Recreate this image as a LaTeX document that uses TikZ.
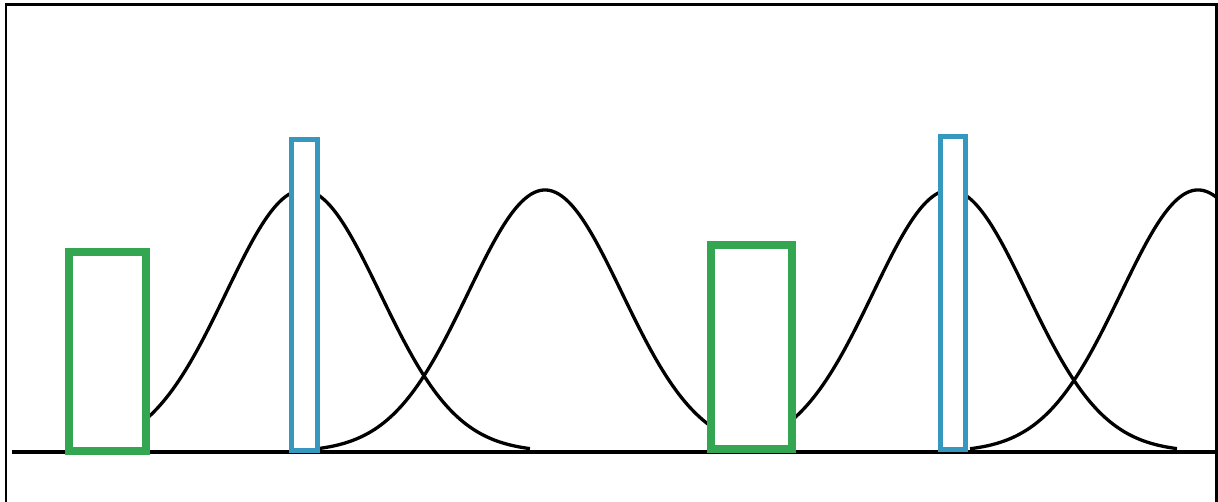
\documentclass[tikz,border=0pt]{standalone}
\definecolor{rgreen}{RGB}{52,166,82}
\definecolor{rblue}{RGB}{54,152,190}
\begin{document}
\begin{tikzpicture}[x=1pt,y=-1pt,
  bell/.style={line width=3.3pt, black, smooth, samples=150, line join=round},
  greenbox/.style={draw=rgreen, line width=8pt, fill=white},
  bluebox/.style={draw=rblue, line width=5pt, fill=white},
  frameline/.style={line width=2.5pt, black},
  axisline/.style={line width=3.4pt, black}]
\useasboundingbox (0,0) rectangle (1218,502);
% baseline
\coordinate (b0) at (12,452);
\coordinate (b1) at (1218,452);
\draw[axisline] (b0) -- (b1);
% bell curves
\begin{scope}
\clip (6,0) rectangle (1216,502);
\foreach \c/\lo/\hi in {303/75/530, 545/317/773, 950/722/1177, 1198/970/1216}{
  \draw[bell] plot[domain=\lo:\hi] (\x, {452-262*exp(-0.5*((\x-\c)/77)^2)});
}
\end{scope}
% boxes
\draw[greenbox] (69,252) rectangle (146,451);
\draw[greenbox] (711,245) rectangle (792,449);
\draw[bluebox] (291,140) rectangle (317.5,450);
\draw[bluebox] (940.5,136.5) rectangle (965.5,449);
% frame
\coordinate (f0) at (6,502);
\coordinate (f1) at (6,4.5);
\coordinate (f2) at (1216.5,4.5);
\coordinate (f3) at (1216.5,502);
\draw[frameline] (f0) -- (f1) -- (f2) -- (f3);
\end{tikzpicture}
\end{document}
